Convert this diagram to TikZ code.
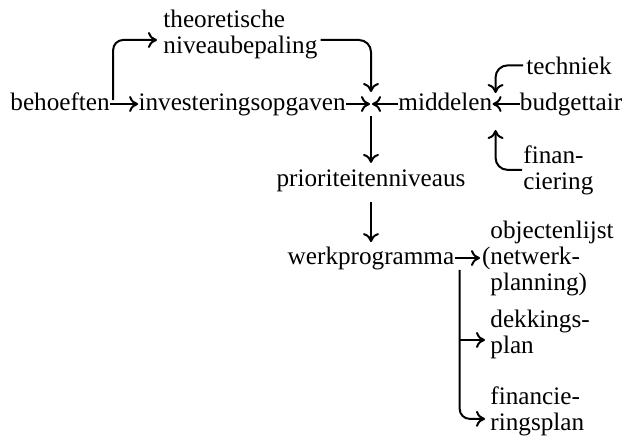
\documentclass[tikz,border=0pt]{standalone}
\usepackage{fontspec}
\setmainfont{Liberation Serif}
\usetikzlibrary{arrows.meta}

\begin{document}
\begin{tikzpicture}[x=0.5pt,y=-0.5pt]

\tikzstyle{txtnode}=[inner sep=0mm,font=\fontsize{12.6}{13}\selectfont,align=left]
\tikzstyle{arr}=[-{To[length=4.5pt,width=8pt]},line width=1pt]

\useasboundingbox (0,0) rectangle (627,441);

\begin{scope}[]

\node [anchor=base west,txtnode] (beh) at (10,110){behoeften};
\node [anchor=base west,txtnode] (inv) at ([xshift=14pt]beh.base east){investeringsopgaven};
\coordinate (jn) at (371,104);
\node [anchor=base west,txtnode] (mid) at (398,110){middelen};
\node [anchor=base west,txtnode] (bud) at ([xshift=13.5pt]mid.base east){budgettair};
\node [anchor=base west,txtnode] (theo) at (163,53){theoretische\\niveaubepaling};
\node [anchor=base west,txtnode] (tech) at (526,74){techniek};
\node [anchor=base west,txtnode] (fin) at (523,189){finan-\\ciering};
\node [anchor=base,txtnode] (prio) at (371,186){prioriteitenniveaus};
\node [anchor=base,txtnode] (werk) at (371,264){werkprogramma};
\node [anchor=base west,txtnode] (obj) at (490,290){objectenlijst\\\llap{(}netwerk-\\planning)};
\node [anchor=base west,txtnode] (dek) at (490,353){dekkings-\\plan};
\node [anchor=base west,txtnode] (fpl) at (490,430){financie-\\ringsplan};

\coordinate (wb) at ([xshift=2.5pt]werk.south east);

\draw[arr] ([yshift=3pt]beh.base east)--([yshift=3pt]inv.base west);
\draw[arr] ([yshift=3pt]inv.base east)--([xshift=-0.5pt]jn);
\draw[arr] ([yshift=3pt]mid.base west)--([xshift=0.5pt]jn);
\draw[arr] ([yshift=3pt]bud.base west)--([yshift=3pt]mid.base east);
\draw[arr] ([yshift=-6pt]jn)--([yshift=3pt]prio.north);
\draw[arr] ([yshift=-5pt]prio.south)--([yshift=2pt]werk.north);
\draw[arr,shorten >=5pt] ([yshift=3pt]werk.base east)--([yshift=3pt]werk.base east -| obj.west);

\draw[arr,rounded corners=5pt] ([xshift=1.5pt,yshift=5pt]beh.base east)|-([xshift=-3pt,yshift=-3pt]theo.west);
\draw[arr,rounded corners=6pt] ([xshift=1.5pt,yshift=-3pt]theo.east)-|([yshift=6pt]jn);

\draw[arr,rounded corners=6pt] ([xshift=-1.5pt]tech.west)-|([xshift=1.5pt,yshift=8.5pt]mid.base east);
\draw[arr,rounded corners=6pt] ([xshift=-0.5pt]fin.west)-|([xshift=1.5pt,yshift=-10pt]mid.base east);

\draw[arr,rounded corners=5pt] (wb)|-([xshift=-2.5pt,yshift=-4pt]fpl.west);
\draw[arr] ([yshift=-3pt]dek.west -| wb)--([xshift=-2.5pt,yshift=-3pt]dek.west);

\end{scope}
\end{tikzpicture}
\end{document}
